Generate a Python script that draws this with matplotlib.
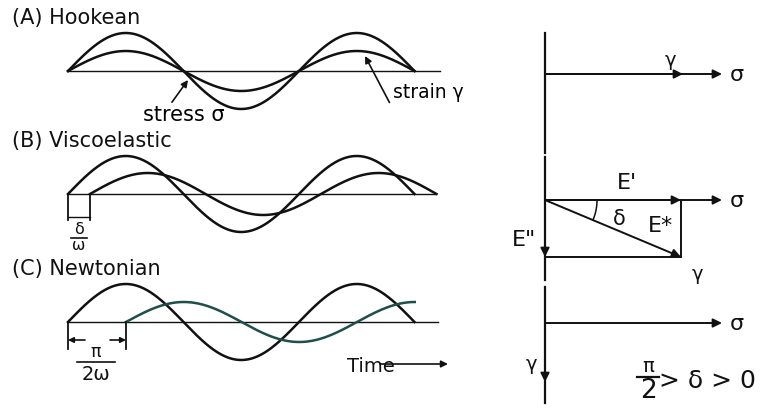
import numpy as np
import matplotlib.pyplot as plt

# canvas in pixel units
W, H = 760, 409
fig = plt.figure(figsize=(7.6, 4.09), dpi=100)
ax = fig.add_axes([0, 0, 1, 1])
ax.set_xlim(0, W)
ax.set_ylim(H, 0)
ax.axis('off')

FONT = 'DejaVu Sans'
INK = '#111111'
GREEN = '#1e4f48'

# --- left side: stress / strain waves ---
panel_names = ["(A) Hookean", "(B) Viscoelastic", "(C) Newtonian"]
label_y = [18, 141, 269]
baseline_y = [71, 194, 322]
baseline_end = [440, 435, 438]
wave_start = 68
period = 231
stress_amp = [38, 38, 38]
strain_amp = [20, 21, 20]
strain_shift = [0, 22, 58]     # lag of the strain wave (px)
stress_cycles = [1.5, 1.5, 1.5]
strain_cycles = [1.5, 1.5, 1.25]
strain_colors = [INK, INK, GREEN]


def wave(y0, amp, x0, cycles):
    x = np.linspace(x0, x0 + cycles * period, 400)
    return x, y0 - amp * np.sin(2 * np.pi * (x - x0) / period)


for i in range(3):
    ax.text(12, label_y[i], panel_names[i], fontsize=15, family=FONT,
            va='center', ha='left', color=INK)
    ax.plot([wave_start, baseline_end[i]], [baseline_y[i]] * 2, color=INK, lw=1.0)
    x, y = wave(baseline_y[i], stress_amp[i], wave_start, stress_cycles[i])
    ax.plot(x, y, color=INK, lw=1.8)
    x, y = wave(baseline_y[i], strain_amp[i], wave_start + strain_shift[i], strain_cycles[i])
    ax.plot(x, y, color=strain_colors[i], lw=1.8)

# annotations in (A)
ax.annotate("stress σ", xy=(188, 80), xytext=(184, 115), fontsize=15, family=FONT,
            ha='center', va='center',
            arrowprops=dict(arrowstyle='-|>', color=INK, lw=1.2, mutation_scale=10,
                            shrinkA=0, shrinkB=0, relpos=(0.15, 0.0)))
ax.annotate("strain γ", xy=(365, 56), xytext=(393, 93), fontsize=13.5, family=FONT,
            ha='left', va='center',
            arrowprops=dict(arrowstyle='-|>', color=INK, lw=1.2, mutation_scale=10,
                            shrinkA=0, shrinkB=0, relpos=(-0.05, 0.0)))

# delta/omega bracket in (B)
bx = [68, 90]
for xx in bx:
    ax.plot([xx, xx], [194, 220], color=INK, lw=1.3)
ax.plot(bx, [217, 217], color=INK, lw=1.0)
ax.text(79, 229, "δ", fontsize=11.5, family=FONT, ha='center', va='center', color=INK)
ax.plot([71, 87], [237.5, 237.5], color=INK, lw=1.2)
ax.text(79, 245, "ω", fontsize=11.5, family=FONT, ha='center', va='center', color=INK)

# pi/2omega bracket in (C)
cx = [68, 126]
for xx in cx:
    ax.plot([xx, xx], [322, 349], color=INK, lw=1.3)
ax.annotate("", xy=(68, 340), xytext=(85, 340),
            arrowprops=dict(arrowstyle='-|>', color=INK, lw=1.2, mutation_scale=8,
                            shrinkA=0, shrinkB=0))
ax.annotate("", xy=(126, 340), xytext=(110, 340),
            arrowprops=dict(arrowstyle='-|>', color=INK, lw=1.2, mutation_scale=8,
                            shrinkA=0, shrinkB=0))
ax.text(96, 352, "π", fontsize=12.5, family=FONT, ha='center', va='center', color=INK)
ax.plot([77, 115], [362, 362], color=INK, lw=1.2)
ax.text(96, 374, "2ω", fontsize=14, family=FONT, ha='center', va='center', color=INK)

# time axis
ax.text(347, 367, "Time", fontsize=14, family=FONT, ha='left', va='center', color=INK)
ax.annotate("", xy=(448, 364), xytext=(380, 364),
            arrowprops=dict(arrowstyle='-|>', color=INK, lw=1.2, mutation_scale=10,
                            shrinkA=0, shrinkB=0))

# --- right side: phasor diagrams ---
vx = 545
v_segments = [(33, 153), (157, 280), (287, 403)]
for a, b in v_segments:
    ax.plot([vx, vx], [a, b], color=INK, lw=1.6)

arrow_kw = dict(arrowstyle='-|>', color=INK, lw=1.4, mutation_scale=13,
                shrinkA=0, shrinkB=0)


def arrow(x0, y0, x1, y1):
    ax.annotate("", xy=(x1, y1), xytext=(x0, y0), arrowprops=arrow_kw)


sigma_y = [74, 200, 323]
sigma_end = 722
for sy in sigma_y:
    arrow(vx, sy, sigma_end, sy)
    ax.text(730, sy + 1, "σ", fontsize=16, family=FONT, ha='left', va='center', color=INK)

# (A) strain in phase
arrow(vx, 74, 683, 74)
ax.text(670, 61, "γ", fontsize=14, family=FONT, ha='center', va='center', color=INK)

# (B) complex modulus triangle
rx, by = 681, 257
arrow(vx, 200, rx, 200)
ax.plot([rx, rx], [200, by], color=INK, lw=1.4)
ax.plot([vx, rx], [by, by], color=INK, lw=1.4)
arrow(vx, 200, rx, by)
arrow(vx, 200, vx, by)
theta = np.linspace(0, np.arctan2(by - 200, rx - vx), 30)
ax.plot(vx + 52 * np.cos(theta), 200 + 52 * np.sin(theta), color=INK, lw=1.1)
ax.text(627, 183, "E'", fontsize=16, family=FONT, ha='center', va='center', color=INK)
ax.text(619, 219, "δ", fontsize=15, family=FONT, ha='center', va='center', color=INK)
ax.text(660, 226, "E*", fontsize=16, family=FONT, ha='center', va='center', color=INK)
ax.text(524, 240, "E\"", fontsize=16, family=FONT, ha='center', va='center', color=INK)
ax.text(697, 275, "γ", fontsize=14, family=FONT, ha='center', va='center', color=INK)

# (C) strain 90 degrees out of phase
arrow(vx, 323, vx, 382)
ax.text(531, 364, "γ", fontsize=14, family=FONT, ha='center', va='center', color=INK)
ax.text(648, 366, "π", fontsize=14, family=FONT, ha='center', va='center', color=INK)
ax.plot([637, 659], [377, 377], color=INK, lw=1.6)
ax.text(648, 391, "2", fontsize=19, family=FONT, ha='center', va='center', color=INK)
ax.text(659, 381, "> δ > 0", fontsize=18, family=FONT, ha='left', va='center', color=INK)

fig.savefig("out.png", dpi=100)
